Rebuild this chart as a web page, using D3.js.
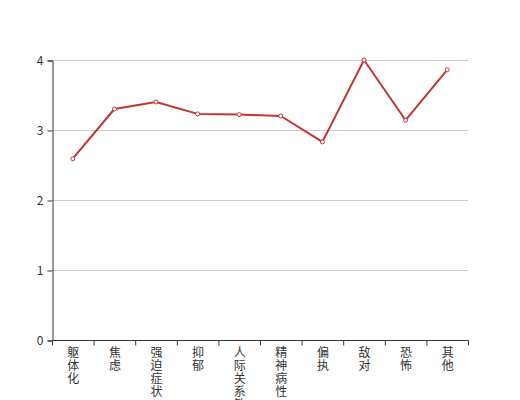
<!DOCTYPE html>
<html><head><meta charset="utf-8">
<script src="https://cdn.jsdelivr.net/npm/d3@7"></script>
<style>body{margin:0;background:#fff}svg{display:block}</style>
</head><body><svg id="c" width="520" height="400"></svg>
<script>
const categories = ["躯体化","焦虑","强迫症状","抑郁","人际关系敏感","精神病性","偏执","敌对","恐怖","其他"];
const values = [2.59, 3.30, 3.40, 3.23, 3.22, 3.20, 2.83, 4.00, 3.14, 3.86];
const yTicks = [0,1,2,3,4];

const svg = d3.select("#c");
const font = "'Noto Sans CJK SC', sans-serif";
const x = d3.scaleBand().domain(categories).range([52,468]);
const y = d3.scaleLinear().domain([0,4]).range([340,60]);

// grid
svg.append("g").selectAll("line").data(yTicks.filter(d=>d>0)).join("line")
  .attr("x1",52).attr("x2",468).attr("y1",d=>y(d)+0.5).attr("y2",d=>y(d)+0.5)
  .attr("stroke","#ccc").attr("stroke-width",1);

// y axis
const yAxis = svg.append("g").attr("transform","translate(52.5,0.5)")
  .call(d3.axisLeft(y).tickValues(yTicks).tickSize(5).tickPadding(4).tickFormat(d3.format("d")));
yAxis.select(".domain").attr("stroke","#333");
yAxis.selectAll(".tick line").attr("stroke","#333");
yAxis.selectAll("text").attr("fill","#333").style("font-family",font).style("font-size","12px");

// x axis
const xAxis = svg.append("g").attr("transform","translate(0.5,340.5)");
xAxis.append("line").attr("x1",52).attr("x2",468).attr("stroke","#333");
const bounds = categories.map(c=>x(c)).concat([x.range()[1]]);
xAxis.selectAll("line.t").data(bounds).join("line").attr("class","t")
  .attr("x1",d=>d).attr("x2",d=>d).attr("y1",0).attr("y2",5).attr("stroke","#333");
const lab = xAxis.selectAll("text").data(categories).join("text")
  .attr("fill","#333").style("font-family",font).style("font-size","12px")
  .attr("text-anchor","middle");
lab.each(function(d){
  const t = d3.select(this);
  [...d].forEach((ch,i)=>{
    t.append("tspan").attr("x",x(d)+x.bandwidth()/2).attr("y",16+i*13.2).text(ch);
  });
});

// line
const line = d3.line().x((d,i)=>x(categories[i])+x.bandwidth()/2).y(d=>y(d));
svg.append("path").datum(values).attr("d",line).attr("fill","none")
  .attr("stroke","#c23531").attr("stroke-width",2).attr("stroke-linejoin","round");
svg.append("g").selectAll("circle").data(values).join("circle")
  .attr("cx",(d,i)=>x(categories[i])+x.bandwidth()/2).attr("cy",d=>y(d)).attr("r",2)
  .attr("fill","#fff").attr("stroke","#c23531").attr("stroke-width",1);
</script></body></html>
